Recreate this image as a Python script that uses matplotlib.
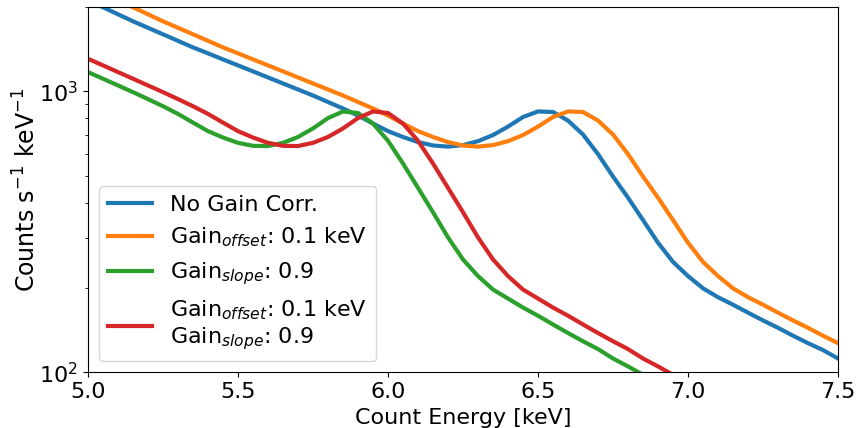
import numpy as np
import matplotlib
matplotlib.use("Agg")
import matplotlib.pyplot as plt

# energy grids [keV]
energy = np.round(np.arange(5.0, 7.5001, 0.05), 2)
energy_slope = np.round(np.arange(5.0, 6.9001, 0.05), 2)
energy_both = np.round(np.arange(5.0, 7.0001, 0.05), 2)

# model count spectra [counts s^-1 keV^-1]
no_gain = [2105, 1988, 1877, 1772, 1680, 1593, 1510, 1431, 1363, 1297,
           1235, 1176, 1119, 1065, 1014, 965, 915, 868, 819, 767,
           721, 687, 659, 641, 635, 643, 664, 698, 748, 809,
           847, 843, 786, 701, 597, 497, 418, 348, 289, 247,
           220, 199, 185, 174, 163, 153, 144, 135, 127, 120, 112]

gain_offset = [2360, 2230, 2105, 1988, 1877, 1772, 1680, 1593, 1510, 1431,
               1363, 1297, 1235, 1176, 1119, 1065, 1014, 965, 915, 868,
               819, 767, 721, 687, 659, 641, 635, 643, 664, 698,
               748, 809, 847, 843, 786, 701, 597, 497, 418, 348,
               289, 247, 220, 199, 185, 174, 163, 153, 144, 135, 127]

gain_slope = [1169, 1107, 1048, 992, 937, 884, 830, 773, 721, 684,
              655, 639, 638, 655, 687, 737, 802, 847, 836, 767,
              666, 553, 453, 371, 302, 252, 220, 197, 183, 170,
              159, 148, 138, 129, 121, 112, 105, 98, 92]

gain_both = [1304, 1235, 1169, 1107, 1048, 992, 937, 884, 830, 773,
             721, 684, 655, 639, 638, 655, 687, 737, 802, 847,
             836, 767, 666, 553, 453, 371, 302, 252, 220, 197,
             183, 170, 159, 148, 138, 129, 121, 112, 105, 98, 92]

plt.rcParams["font.size"] = 16

fig = plt.figure(figsize=(8.59, 4.28), dpi=100)
ax = fig.add_axes([0.1024, 0.130, 0.8732, 0.8548])

ax.plot(energy, no_gain, lw=3, label="No Gain Corr.")
ax.plot(energy, gain_offset, lw=3, label=r"Gain$_{offset}$: 0.1 keV")
ax.plot(energy_slope, gain_slope, lw=3, label=r"Gain$_{slope}$: 0.9")
ax.plot(energy_both, gain_both, lw=3,
        label="Gain$_{offset}$: 0.1 keV\nGain$_{slope}$: 0.9")

ax.set_yscale("log")
ax.set_xlim(5.0, 7.5)
ax.set_ylim(100, 2000)
ax.set_xlabel("Count Energy [keV]")
ax.set_ylabel(r"Counts s$^{-1}$ keV$^{-1}$", fontsize=17, labelpad=-1)
ax.legend(loc="lower left")

fig.savefig("out.png", dpi=100)
